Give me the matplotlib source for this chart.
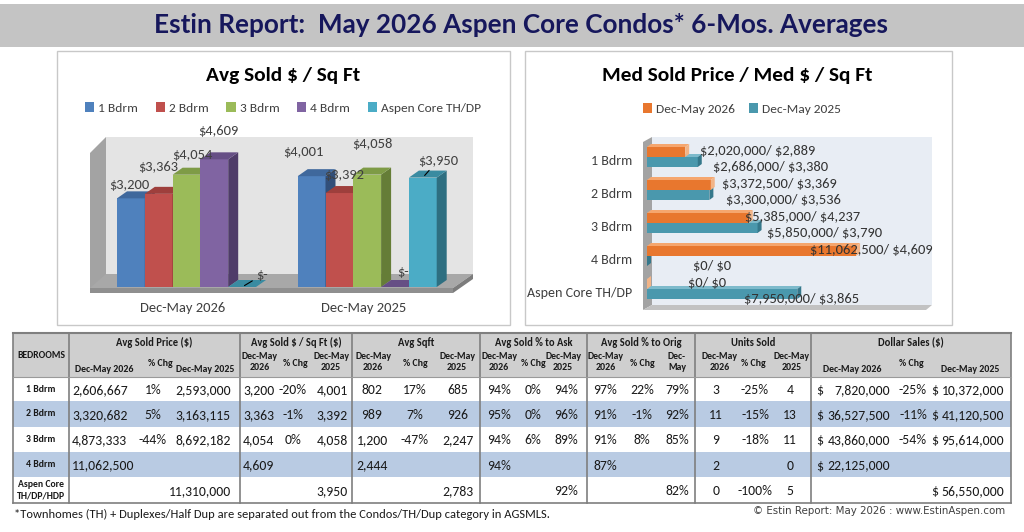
import matplotlib
matplotlib.use("Agg")
import matplotlib.pyplot as plt
from matplotlib import font_manager
from matplotlib.patches import Rectangle, Polygon, Patch

W, H = 1024, 532

# ---------------- data ----------------
periods = ["Dec-May 2026", "Dec-May 2025"]
series = ["1 Bdrm", "2 Bdrm", "3 Bdrm", "4 Bdrm", "Aspen Core TH/DP"]
psf_2026 = [3200, 3363, 4054, 4609, 0]
psf_2025 = [4001, 3392, 4058, 0, 3950]

med_cats = ["1 Bdrm", "2 Bdrm", "3 Bdrm", "4 Bdrm", "Aspen Core TH/DP"]
med_price_2026 = [2020000, 3372500, 5385000, 11062500, 0]
med_psf_2026 = [2889, 3369, 4237, 4609, 0]
med_price_2025 = [2686000, 3300000, 5850000, 0, 7950000]
med_psf_2025 = [3380, 3536, 3790, 0, 3865]

row_labels = ["1 Bdrm", "2 Bdrm", "3 Bdrm", "4 Bdrm", "Aspen Core\nTH/DP/HDP"]
group_titles = ["Avg Sold Price ($)", "Avg Sold $ / Sq Ft ($)", "Avg Sqft",
                "Avg Sold % to Ask", "Avg Sold % to Orig", "Units Sold", "Dollar Sales ($)"]
sub_heads = [["Dec-May 2026", "% Chg", "Dec-May 2025"],
             ["Dec-May\n2026", "% Chg", "Dec-May\n2025"],
             ["Dec-May\n2026", "% Chg", "Dec-May\n2025"],
             ["Dec-May\n2026", "% Chg", "Dec-May\n2025"],
             ["Dec-May\n2026", "% Chg", "Dec-\nMay"],
             ["Dec-May\n2026", "% Chg", "Dec-May\n2025"],
             ["Dec-May 2026", "% Chg", "Dec-May 2025"]]

price_26 = [2606667, 3320682, 4873333, 11062500, None]
price_chg = [1, 5, -44, None, None]
price_25 = [2593000, 3163115, 8692182, None, 11310000]
psf_26 = [3200, 3363, 4054, 4609, None]
psf_chg = [-20, -1, 0, None, None]
psf_25 = [4001, 3392, 4058, None, 3950]
sqft_26 = [802, 989, 1200, 2444, None]
sqft_chg = [17, 7, -47, None, None]
sqft_25 = [685, 926, 2247, None, 2783]
ask_26 = [94, 95, 94, 94, None]
ask_chg = [0, 0, 6, None, None]
ask_25 = [94, 96, 89, None, 92]
orig_26 = [97, 91, 91, 87, None]
orig_chg = [22, -1, 8, None, None]
orig_25 = [79, 92, 85, None, 82]
units_26 = [3, 11, 9, 2, 0]
units_chg = [-25, -15, -18, None, -100]
units_25 = [4, 13, 11, 0, 5]
dollar_26 = [7820000, 36527500, 43860000, 22125000, None]
dollar_chg = [-25, -11, -54, None, None]
dollar_25 = [10372000, 41120500, 95614000, None, 56550000]

table_cols = [[(price_26, "int"), (price_chg, "pct"), (price_25, "int")],
              [(psf_26, "int"), (psf_chg, "pct"), (psf_25, "int")],
              [(sqft_26, "int"), (sqft_chg, "pct"), (sqft_25, "int")],
              [(ask_26, "pct"), (ask_chg, "pct"), (ask_25, "pct")],
              [(orig_26, "pct"), (orig_chg, "pct"), (orig_25, "pct")],
              [(units_26, "int"), (units_chg, "pct"), (units_25, "int")],
              [(dollar_26, "usd"), (dollar_chg, "pct"), (dollar_25, "usd")]]

# ---------------- fonts ----------------
names = {f.name for f in font_manager.fontManager.ttflist}


def pick(*fams):
    for f in fams:
        if f in names:
            return f
    return "DejaVu Sans"


TITLE_FONT = pick("Liberation Sans Narrow", "DejaVu Sans Condensed", "Lato")
BODY_FONT = pick("Carlito", "Lato", "Open Sans")
k = 1.1 if BODY_FONT == "Carlito" else 1.0
title_size = 19 if TITLE_FONT != "Lato" else 18.8
plt.rcParams["font.family"] = [BODY_FONT, "DejaVu Sans"]
plt.rcParams["text.parse_math"] = False

fig = plt.figure(figsize=(W / 100, H / 100), dpi=100)
fig.patch.set_facecolor("white")

# pixel canvas for the panels, walls and table
ax0 = fig.add_axes([0, 0, 1, 1])
ax0.set_xlim(0, W)
ax0.set_ylim(H, 0)
ax0.axis("off")


def px_axes(x0, y0, x1, y1):
    a = fig.add_axes([x0 / W, 1 - y1 / H, (x1 - x0) / W, (y1 - y0) / H])
    a.axis("off")
    return a


def poly(ax, pts, color, z=1):
    ax.add_patch(Polygon(pts, closed=True, fc=color, ec="none", lw=0, zorder=z))


# title band
ax0.add_patch(Rectangle((0, 4), W, 43, fc="#c4c4c4", ec="none"))
ax0.text(521, 25, "Estin Report:  May 2026 Aspen Core Condos* 6-Mos. Averages",
         ha="center", va="center", fontsize=title_size, fontweight="bold",
         color="#16175c", family=TITLE_FONT)

# panels
ax0.add_patch(Rectangle((57, 51), 453, 274, fc="white", ec="#c8c8c8", lw=1))
ax0.add_patch(Rectangle((525, 51), 427, 274, fc="white", ec="#c8c8c8", lw=1))

# ---------------- left chart: walls ----------------
poly(ax0, [(106, 137), (473, 137), (473, 276), (106, 276)], "#e4e4e4")
poly(ax0, [(90, 153), (106, 137), (106, 276), (90, 292)], "#a3a3a3")
poly(ax0, [(90, 288), (453, 288), (473, 274), (106, 274)], "#a8a8a8")
poly(ax0, [(90, 288), (453, 288), (453, 293), (90, 293)], "#8f8f8f")
poly(ax0, [(453, 288), (473, 274), (473, 279), (453, 293)], "#7c7c7c")

ax0.text(283, 76, "Avg Sold $ / Sq Ft", ha="center", va="center",
         fontsize=14 * k, fontweight="bold", color="black")

front_cols = ["#4f81bd", "#c0504d", "#9bbb59", "#8064a2", "#4bacc6"]
top_cols = ["#3f689c", "#9e3f3c", "#7e9b46", "#664f85", "#3a8ba1"]
side_cols = ["#324f79", "#7f3230", "#657d37", "#4f3c69", "#2e6f81"]

axL = px_axes(80, 125, 490, 300)
UX, UY = 27.8, 36.1          # px per bar unit, dollars per px
axL.set_xlim((80 - 117) / UX, (490 - 117) / UX)
axL.set_ylim(-(300 - 287) * UY, (287 - 125) * UY)
ddx, ddy = 10 / UX, 7 * UY

lab_off = [[(-2, 13), (0, 27), (6, 20), (4, 28), (20, 12)],
           [(-8, 24), (5, 18), (5, 31), (8, 15), (15, 17)]]
leaders = [[False, False, False, False, True],
           [False, False, False, False, True]]

for g, vals in enumerate([psf_2026, psf_2025]):
    for s, v in enumerate(vals):
        x = g * 6.5 + s
        axL.bar(x, v, width=1, align="edge", color=front_cols[s], lw=0, zorder=2)
        poly(axL, [(x + 1, 0), (x + 1 + ddx, ddy), (x + 1 + ddx, v + ddy), (x + 1, v)],
             side_cols[s], 2)
        poly(axL, [(x, v), (x + 1, v), (x + 1 + ddx, v + ddy), (x + ddx, v + ddy)],
             top_cols[s], 2)
        txt = "$-" if v == 0 else f"${v:,}"
        ap = dict(arrowstyle="-", color="black", lw=0.8, shrinkA=1, shrinkB=2) \
            if leaders[g][s] else None
        axL.annotate(txt, xy=(x + 0.5, v), xytext=lab_off[g][s],
                     textcoords="offset pixels", ha="center", va="center",
                     fontsize=9.5 * k, color="#404040", arrowprops=ap, zorder=5)
    axL.annotate(periods[g], xy=(g * 6.5 + 2.5, 0), xytext=(-4, -21),
                 textcoords="offset pixels", ha="center", va="center",
                 fontsize=9.5 * k, color="#404040")

fig.legend([Patch(fc=c) for c in front_cols], series, loc="center",
           bbox_to_anchor=(283 / W, 1 - 108 / H), ncol=5, frameon=False,
           fontsize=8.8 * k, handlelength=0.7, handleheight=0.7,
           handletextpad=0.3, columnspacing=1.3, labelcolor="#404040")

# ---------------- right chart ----------------
poly(ax0, [(652, 137), (932, 137), (932, 305), (652, 305)], "#e8edf4")
poly(ax0, [(643, 142), (652, 137), (652, 305), (643, 310)], "#a3a3a3")
poly(ax0, [(643, 310), (652, 305), (932, 305), (926, 310)], "#c2c2c2")

ax0.text(737, 76, "Med Sold Price / Med $ / Sq Ft", ha="center", va="center",
         fontsize=14 * k, fontweight="bold", color="black")

axR = px_axes(600, 130, 950, 315)
UM = 52910                   # dollars per px
axR.set_xlim((600 - 647) * UM, (950 - 647) * UM)
axR.set_ylim((315 - 157) / 33, (130 - 157) / 33)
bh = 10 / 33
rdx, rdy = 4 * UM, 3 / 33

bar_specs = [(med_price_2025, med_psf_2025, bh / 2, "#4a98ad", "#7dbacb", "#35788b",
              [15, 17, 9, 46, -53], -5),
             (med_price_2026, med_psf_2026, -bh / 2, "#e8772e", "#f5a66e", "#f2b487",
              [15, 11, -4, -46, 41], 1)]
for prices, psfs, shift, c_front, c_top, c_cap, offs, voff in bar_specs:
    for i, (p, q) in enumerate(zip(prices, psfs)):
        y = i + shift
        yt, yb = y - bh / 2, y + bh / 2
        axR.barh(y, p, height=bh, left=0, color=c_front, lw=0, zorder=2)
        poly(axR, [(0, yt), (p, yt), (p + rdx, yt - rdy), (rdx, yt - rdy)], c_top, 2)
        poly(axR, [(p, yt), (p + rdx, yt - rdy), (p + rdx, yb - rdy), (p, yb)], c_cap, 2)
        axR.annotate(f"${p:,}/ ${q:,}", xy=(p, y), xytext=(offs[i], voff),
                     textcoords="offset pixels", ha="left", va="center",
                     fontsize=9.5 * k, color="#333333", zorder=5)

for i, c in enumerate(med_cats):
    axR.annotate(c, xy=(0, i), xytext=(-15, -4), textcoords="offset pixels",
                 ha="right", va="center", fontsize=9.2 * k, color="#404040")

fig.legend([Patch(fc="#e8772e"), Patch(fc="#4a98ad")], periods, loc="center",
           bbox_to_anchor=(742 / W, 1 - 109 / H), ncol=2, frameon=False,
           fontsize=8.8 * k, handlelength=0.7, handleheight=0.7,
           handletextpad=0.3, columnspacing=1.0, labelcolor="#404040")

# ---------------- table ----------------
TX0, TX1 = 13, 1011
TY0, HY1 = 333, 377
row_y = [377, 401, 427, 452, 477, 503]
group_edges = [69, 240, 352, 480, 587, 695, 811, 1011]
sub_x = [[104, 160, 205], [260, 295, 331], [373, 415, 457], [499, 533, 563],
         [606, 642, 677], [720, 753, 792], [852, 911, 970]]
body_pos = [[(72, "left"), (153, "center"), (231, "right")],
            [(243, "left"), (293, "center"), (348, "right")],
            [(372, "center"), (415, "center"), (458, "center")],
            [(499, "center"), (533, "center"), (566, "center")],
            [(605, "center"), (642, "center"), (677, "center")],
            [(716, "center"), (755, "center"), (790, "center")],
            [(890, "right"), (913, "center"), (1004, "right")]]
usd_sign_x = {0: 816, 2: 931}
body_fs = 9.0 * k

ax0.add_patch(Rectangle((TX0, TY0), TX1 - TX0, HY1 - TY0, fc="#cfcfcf", ec="none"))
for r in range(5):
    if r % 2 == 1:
        ax0.add_patch(Rectangle((TX0, row_y[r]), TX1 - TX0, row_y[r + 1] - row_y[r],
                                fc="#b9cbe3", ec="none"))

ax0.text(41, 355, "BEDROOMS", ha="center", va="center", fontsize=6.4 * k,
         fontweight="bold", color="#1a1a1a")
for gi, title in enumerate(group_titles):
    gx = (group_edges[gi] + group_edges[gi + 1]) / 2
    ax0.text(gx, 342, title, ha="center", va="center", fontsize=6.9 * k,
             fontweight="bold", color="#1a1a1a")
    for si, sh in enumerate(sub_heads[gi]):
        yy = 370 if ("\n" not in sh and sh != "% Chg") else (363 if sh == "% Chg" else 362)
        ax0.text(sub_x[gi][si], yy, sh, ha="center", va="center", fontsize=6.5 * k,
                 fontweight="bold", color="#1a1a1a", linespacing=1.15)

for r, lab in enumerate(row_labels):
    yc = (row_y[r] + row_y[r + 1]) / 2
    ax0.text(41, yc, lab, ha="center", va="center", fontsize=6.4 * k,
             fontweight="bold", color="#1a1a1a", linespacing=1.3)
    for gi, cols in enumerate(table_cols):
        for si, (vals, kind) in enumerate(cols):
            v = vals[r]
            if v is None:
                continue
            txt = f"{v}%" if kind == "pct" else f"{v:,}"
            x, ha = body_pos[gi][si]
            ax0.text(x, yc + 1, txt, ha=ha, va="center", fontsize=body_fs,
                     color="#1a1a1a")
            if kind == "usd":
                ax0.text(usd_sign_x[si], yc + 1, "$", ha="left", va="center",
                         fontsize=body_fs, color="#1a1a1a")

for xe in group_edges:
    ax0.plot([xe, xe], [TY0, row_y[-1]], color="#7f7f7f", lw=1.2)
ax0.plot([TX0, TX0], [TY0, row_y[-1]], color="#7f7f7f", lw=1.2)
ax0.plot([TX0, TX1], [TY0, TY0], color="#7f7f7f", lw=1.5)
ax0.plot([TX0, TX1], [HY1, HY1], color="#9a9a9a", lw=0.8)
ax0.plot([TX0, TX1], [row_y[-1], row_y[-1]], color="#7f7f7f", lw=1.2)

# ---------------- footer ----------------
ax0.text(14, 514, "*Townhomes (TH) + Duplexes/Half Dup are separated out from the "
         "Condos/TH/Dup category in AGSMLS.", ha="left", va="center",
         fontsize=8.2 * k, color="#1a1a1a")
ax0.text(1005, 511, "\u00a9 Estin Report: May 2026 : www.EstinAspen.com", ha="right",
         va="center", fontsize=7.4, color="#404040", family="DejaVu Sans")

fig.savefig("out.png", dpi=100)
